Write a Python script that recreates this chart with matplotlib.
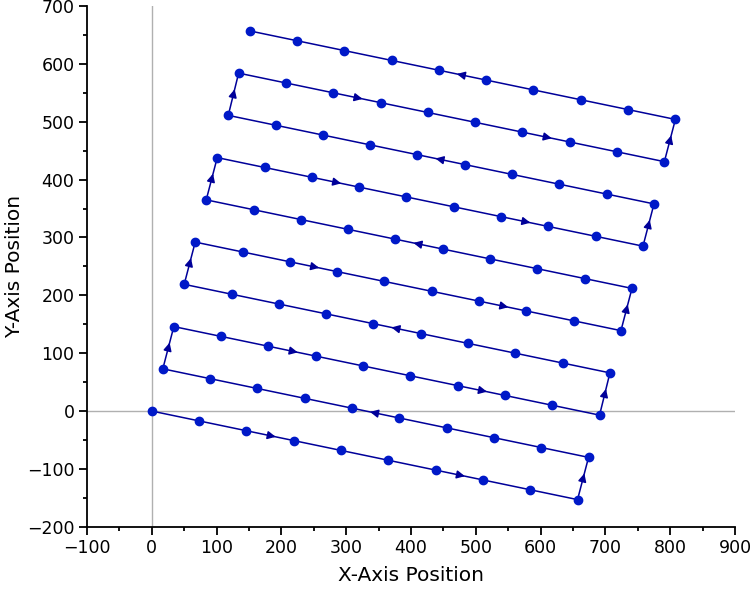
import matplotlib
matplotlib.use("Agg")
import matplotlib.pyplot as plt
from matplotlib.ticker import MultipleLocator

# path points in drawing order (serpentine, 10 rows x 10 points)
x_pos = [0, 73, 146, 219, 292, 365, 438, 511, 584, 657,
         674, 601, 528, 455, 382, 309, 236, 163, 90, 17,
         34, 107, 180, 253, 326, 399, 472, 545, 618, 691,
         707, 634, 561, 488, 415, 342, 269, 196, 123, 50,
         67, 140, 213, 286, 359, 432, 505, 578, 651, 724,
         741, 668, 595, 522, 449, 376, 303, 230, 157, 84,
         101, 174, 247, 320, 393, 466, 539, 612, 685, 758,
         775, 702, 629, 556, 483, 410, 337, 264, 191, 118,
         134, 207, 280, 353, 426, 499, 572, 645, 718, 791,
         808, 735, 662, 589, 516, 443, 370, 297, 224, 151]
y_pos = [0, -17, -34, -51, -68, -85, -102, -119, -136, -153,
         -80, -63, -46, -29, -12, 5, 22, 39, 56, 73,
         146, 129, 112, 95, 78, 61, 44, 27, 10, -7,
         66, 83, 100, 117, 134, 151, 168, 185, 202, 219,
         292, 275, 258, 241, 224, 207, 190, 173, 156, 139,
         212, 229, 246, 263, 280, 297, 314, 331, 348, 365,
         438, 421, 404, 387, 370, 353, 336, 319, 302, 285,
         358, 375, 392, 409, 426, 443, 460, 477, 494, 511,
         584, 567, 550, 533, 516, 499, 482, 465, 448, 431,
         504, 521, 538, 555, 572, 589, 606, 623, 640, 657]
# indices of path segments that carry a direction arrow
arrow_segments = [2, 6, 9, 14, 19, 22, 26, 29, 34, 39, 42, 46, 49, 54, 59,
                  62, 66, 69, 74, 79, 82, 86, 89, 94]

line_c = "#000099"
mark_c = "#0019C8"

fig = plt.figure(figsize=(7.5, 6), dpi=100)
ax = fig.add_axes([0.116, 0.122, 0.864, 0.868])
ax.axhline(0, color="#b0b0b0", lw=1, zorder=0)
ax.axvline(0, color="#b0b0b0", lw=1, zorder=0)
ax.plot(x_pos, y_pos, color=line_c, lw=1.1, zorder=2)
ax.plot(x_pos, y_pos, "o", color=mark_c, ms=6, zorder=3)
for k in arrow_segments:
    x0, y0 = x_pos[k], y_pos[k]
    x1, y1 = x_pos[k + 1], y_pos[k + 1]
    ax.annotate("", xy=(x0 + 0.62 * (x1 - x0), y0 + 0.62 * (y1 - y0)),
                xytext=(x0 + 0.45 * (x1 - x0), y0 + 0.45 * (y1 - y0)),
                arrowprops=dict(arrowstyle="-|>", color=line_c, lw=1.1,
                                mutation_scale=12, shrinkA=0, shrinkB=0),
                zorder=4)

ax.set_xlim(-100, 900)
ax.set_ylim(-200, 700)
ax.xaxis.set_major_locator(MultipleLocator(100))
ax.xaxis.set_minor_locator(MultipleLocator(50))
ax.yaxis.set_major_locator(MultipleLocator(100))
ax.yaxis.set_minor_locator(MultipleLocator(50))
for s in ["top", "right"]:
    ax.spines[s].set_visible(False)
for s in ["left", "bottom"]:
    ax.spines[s].set_linewidth(1.3)
ax.tick_params(which="major", length=6, width=1.3, labelsize=12.5, pad=3)
ax.tick_params(which="minor", length=3, width=1.3)
ax.set_xlabel("X-Axis Position", fontsize=14.5, labelpad=6)
ax.set_ylabel("Y-Axis Position", fontsize=14.5, labelpad=2)
fig.savefig("out.png", dpi=100)
